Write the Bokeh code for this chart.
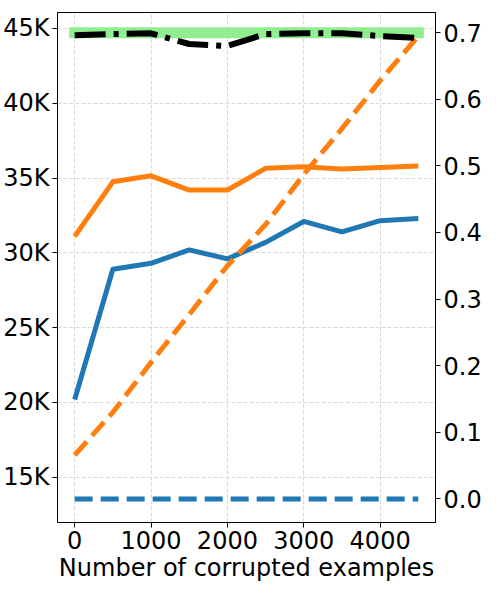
from bokeh.plotting import figure
from bokeh.models import Range1d, LinearAxis, FixedTicker
from bokeh.embed import file_html
from bokeh.resources import INLINE

# ---- data ----
x_vals = [0, 500, 1000, 1500, 2000, 2500, 3000, 3500, 4000, 4500]
blue_solid = [20200, 28900, 29300, 30200, 29600, 30700, 32100, 31400, 32150, 32300]
orange_solid = [31100, 34750, 35150, 34200, 34200, 35650, 35750, 35600, 35700, 35800]
orange_dashed = [0.066, 0.130, 0.205, 0.277, 0.350, 0.412, 0.487, 0.556, 0.628, 0.695]
blue_dashed = [0.0, 0.0, 0.0, 0.0, 0.0, 0.0, 0.0, 0.0, 0.0, 0.0]
black_dashdot = [0.696, 0.698, 0.699, 0.683, 0.680, 0.698, 0.699, 0.699, 0.695, 0.692]
green_ref = [0.70, 0.70]
green_x = [0, 4500]

x_ticks = [0, 1000, 2000, 3000, 4000]
left_ticks = [15000, 20000, 25000, 30000, 35000, 40000, 45000]
left_labels = ["15K", "20K", "25K", "30K", "35K", "40K", "45K"]
right_ticks = [0.0, 0.1, 0.2, 0.3, 0.4, 0.5, 0.6, 0.7]
right_labels = ["0.0", "0.1", "0.2", "0.3", "0.4", "0.5", "0.6", "0.7"]
x_label = "Number of corrupted examples"

BLUE = "#1f77b4"
ORANGE = "#ff7f0e"
GREEN = "#90ee90"
FONT = "DejaVu Sans"
FS = "24px"

p = figure(width=484, height=584,
           x_range=Range1d(-225, 4725), y_range=Range1d(11976, 46068),
           output_backend="svg", toolbar_location=None,
           min_border_left=56, min_border_right=40,
           min_border_top=12, min_border_bottom=60)
p.extra_y_ranges = {"right": Range1d(-0.0354, 0.7303)}
p.background_fill_color = "white"
p.border_fill_color = "white"
p.outline_line_color = "black"
p.outline_line_width = 1

right_axis = LinearAxis(y_range_name="right")
p.add_layout(right_axis, "right")

def style_axis(ax):
    ax.major_label_text_font = FONT
    ax.major_label_text_font_size = FS
    ax.major_label_text_color = "black"
    ax.major_tick_out = 5
    ax.major_tick_in = 0
    ax.major_tick_line_color = "black"
    ax.minor_tick_line_color = None
    ax.axis_line_color = "black"
    ax.major_label_standoff = 3

xa = p.xaxis[0]
ya = p.yaxis[0]
for ax in (xa, ya, right_axis):
    style_axis(ax)

xa.ticker = FixedTicker(ticks=x_ticks)
ya.ticker = FixedTicker(ticks=left_ticks)
ya.major_label_overrides = {t: l for t, l in zip(left_ticks, left_labels)}
right_axis.ticker = FixedTicker(ticks=right_ticks)
right_axis.major_label_overrides = {t: l for t, l in zip(right_ticks, right_labels)}

xa.axis_label = x_label
xa.axis_label_text_font = FONT
xa.axis_label_text_font_size = FS
xa.axis_label_text_font_style = "normal"
xa.axis_label_text_color = "black"
xa.axis_label_standoff = 2

p.xgrid.ticker = FixedTicker(ticks=x_ticks)
p.ygrid.ticker = FixedTicker(ticks=left_ticks)
for g in (p.xgrid, p.ygrid):
    g.grid_line_color = "#d9d9d9"
    g.grid_line_dash = "4 2"
    g.grid_line_width = 1

# ---- marks ----
p.line(green_x, green_ref, y_range_name="right", line_color=GREEN,
       line_width=11, line_cap="square")
p.line(x_vals, blue_solid, line_color=BLUE, line_width=5, line_join="round")
p.line(x_vals, orange_solid, line_color=ORANGE, line_width=5, line_join="round")
p.line(x_vals, blue_dashed, y_range_name="right", line_color=BLUE,
       line_width=5, line_dash="18 8")
p.line(x_vals, orange_dashed, y_range_name="right", line_color=ORANGE,
       line_width=5, line_dash="18 8")
p.line(x_vals, black_dashdot, y_range_name="right", line_color="black",
       line_width=6, line_dash="31 8 5 8", line_join="round")

open("out.html", "w").write(file_html(p, INLINE))
